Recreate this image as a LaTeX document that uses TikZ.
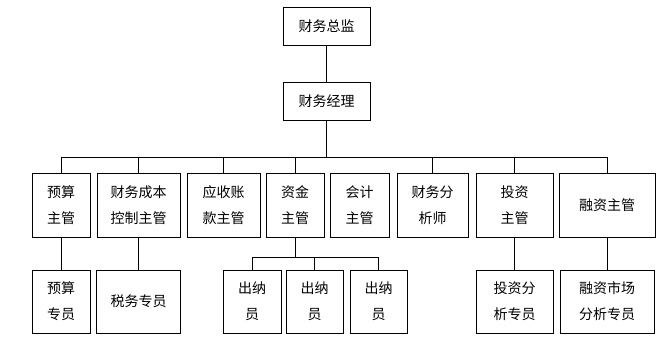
\documentclass[tikz,border=0pt]{standalone}
\usepackage{fontspec}
\newfontfamily\cjk{Noto Sans CJK SC}
\usepackage{tikz}
\usetikzlibrary{positioning}

\begin{document}
\begin{tikzpicture}[
    x=1pt, y=1pt,
    node distance=33pt and 7pt,
    box/.style={rectangle, draw, line width=0.8pt, outer sep=0pt, minimum width=58pt, minimum height=64pt, inner sep=2pt, align=center, font=\cjk\fontsize{14}{26}\selectfont},
    topbox/.style={box, minimum width=87pt, minimum height=38pt},
    subbox/.style={box, minimum height=63pt},
    line/.style={line width=0.8pt}
]
\useasboundingbox (0,0) rectangle (667,-354);

\node[topbox] (zongjian) at (326.5,-26) {财务总监};
\node[topbox] (jingli) at (326.5,-101) {财务经理};

\node[box] (yusuan) at (61,-205) {预算\\主管};
\node[box, minimum width=83pt, right=of yusuan] (chengben) {财务成本\\控制主管};
\node[box, minimum width=73pt, right=of chengben] (yingshou) {应收账\\款主管};
\node[box, right=6pt of yingshou] (zijin) {资金\\主管};
\node[box, minimum width=59pt, right=6pt of zijin] (kuaiji) {会计\\主管};
\node[box, minimum width=71pt, right=8pt of kuaiji] (fenxi) {财务分\\析师};
\node[box, minimum width=77pt, right=8pt of fenxi] (touzi) {投资\\主管};
\node[box, minimum width=96pt, right=6pt of touzi] (rongzi) {融资主管};

\node[subbox, below=of yusuan] (yusuanzy) {预算\\专员};
\node[subbox, minimum width=84pt, below=of chengben] (shuiwu) {税务专员};
\node[subbox, minimum width=57pt, below=of zijin, xshift=19.5pt] (chuna2) {出纳\\员};
\node[subbox, left=5pt of chuna2] (chuna1) {出纳\\员};
\node[subbox, minimum width=57pt, right=of chuna2] (chuna3) {出纳\\员};
\node[subbox, minimum width=77pt, below=of touzi] (touzizy) {投资分\\析专员};
\node[subbox, minimum width=94pt, below=of rongzi] (rongzizy) {融资市场\\分析专员};

\coordinate (bus) at (0,-157);
\coordinate (subbus) at (0,-257);

\draw[line] (zongjian) -- (jingli);
\draw[line] (jingli) -- (jingli.south |- bus);
\draw[line] (yusuan.north) -- (yusuan.north |- bus) -- (rongzi.north |- bus) -- (rongzi.north);
\foreach \n in {chengben, yingshou, zijin, fenxi, touzi}
    \draw[line] (\n) -- (\n.north |- bus);

\draw[line] (yusuan) -- (yusuanzy);
\draw[line] (chengben) -- (shuiwu);
\draw[line] (touzi) -- (touzizy);
\draw[line] (rongzi) -- (rongzizy);

\draw[line] (zijin) -- (zijin.south |- subbus);
\draw[line] (chuna1.north) -- (chuna1.north |- subbus) -- (chuna3.north |- subbus) -- (chuna3.north);
\draw[line] (chuna2) -- (chuna2.north |- subbus);

\end{tikzpicture}
\end{document}
